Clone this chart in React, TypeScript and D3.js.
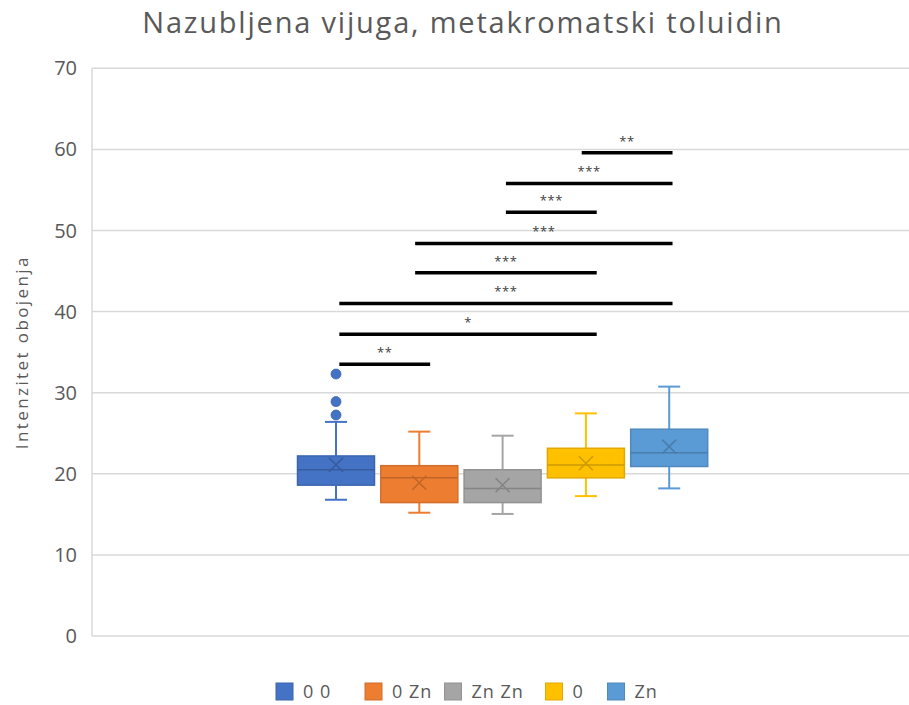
import React from "react";
import * as d3 from "d3";

const title = "Nazubljena vijuga, metakromatski toluidin";
const yAxisTitle = "Intenzitet obojenja";
const series = ["0 0", "0 Zn", "Zn Zn", "0", "Zn"];
const colors = ["#4472C4", "#ED7D31", "#A5A5A5", "#FFC000", "#5B9BD5"];
const whiskerLow = [16.8, 15.2, 15.05, 17.25, 18.2];
const q1 = [18.6, 16.45, 16.45, 19.5, 20.9];
const median = [20.5, 19.5, 18.2, 21.1, 22.6];
const q3 = [22.2, 21.0, 20.5, 23.15, 25.5];
const whiskerHigh = [26.4, 25.2, 24.7, 27.45, 30.75];
const means = [21.1, 18.9, 18.6, 21.3, 23.35];
const outliers = [[32.3, 28.9, 27.25], [], [], [], []];
const yTicks = [0, 10, 20, 30, 40, 50, 60, 70];

// significance brackets (x in series-index units)
const sigFrom = [2.95, 2.04, 2.04, 0.95, 0.95, 0.04, 0.04, 0.04];
const sigTo = [4.04, 4.04, 3.13, 4.04, 3.13, 4.04, 3.13, 1.13];
const sigY = [59.6, 55.8, 52.25, 48.4, 44.8, 41.0, 37.2, 33.5];
const sigLabel = ["**", "***", "***", "***", "***", "***", "*", "**"];

const W = 909;
const H = 705;
const plotLeft = 92;
const plotRight = 909;
const plotTop = 68.3;
const plotBottom = 636;

export default function App() {
  const y = d3.scaleLinear().domain([0, 70]).range([plotBottom, plotTop]);
  const x = d3
    .scaleBand<string>()
    .domain(series)
    .range([294.35, 710.85])
    .paddingInner(0.0756)
    .paddingOuter(0.0378);
  const bw = x.bandwidth();
  const cx = (i: number) => (x(series[i]) as number) + bw / 2;
  const xi = d3.scaleLinear().domain([0, 4]).range([cx(0), cx(4)]);
  const font = "'Open Sans', sans-serif";
  const capW = 22;
  const xs = 7;

  return (
    <svg
      width={W}
      height={H}
      style={{ position: "absolute", left: 0, top: 0, background: "#fff" }}
      fontFamily={font}
    >
      <rect width={W} height={H} fill="#fff" />
      <text x={463} y={33} textAnchor="middle" fontSize={29} letterSpacing={1.8} fill="#595959">
        {title}
      </text>
      {/* gridlines */}
      {yTicks.map((t) => (
        <line
          key={t}
          x1={plotLeft}
          x2={plotRight}
          y1={y(t)}
          y2={y(t)}
          stroke="#d9d9d9"
          strokeWidth={1.5}
        />
      ))}
      <line x1={plotLeft} x2={plotLeft} y1={plotTop} y2={plotBottom} stroke="#d9d9d9" strokeWidth={1.5} />
      {yTicks.map((t) => (
        <text
          key={"l" + t}
          x={77}
          y={y(t)}
          dy="0.35em"
          textAnchor="end"
          fontSize={20}
          fill="#595959"
        >
          {t}
        </text>
      ))}
      <text
        transform={`translate(22,${(plotTop + plotBottom) / 2}) rotate(-90)`}
        textAnchor="middle"
        dy="0.35em"
        fontSize={17}
        letterSpacing={2.4}
        fill="#595959"
      >
        {yAxisTitle}
      </text>
      {/* boxes */}
      {series.map((s, i) => {
        const c = colors[i];
        const dark = d3.color(c)!.darker(0.35).formatHex();
        const darker = d3.color(c)!.darker(0.6).formatHex();
        const x0 = x(s) as number;
        const m = cx(i);
        return (
          <g key={s}>
            <line x1={m} x2={m} y1={y(whiskerHigh[i])} y2={y(q3[i])} stroke={c} strokeWidth={2} />
            <line x1={m} x2={m} y1={y(q1[i])} y2={y(whiskerLow[i])} stroke={c} strokeWidth={2} />
            <line x1={m - capW / 2} x2={m + capW / 2} y1={y(whiskerHigh[i])} y2={y(whiskerHigh[i])} stroke={c} strokeWidth={2} />
            <line x1={m - capW / 2} x2={m + capW / 2} y1={y(whiskerLow[i])} y2={y(whiskerLow[i])} stroke={c} strokeWidth={2} />
            <rect
              x={x0}
              y={y(q3[i])}
              width={bw}
              height={y(q1[i]) - y(q3[i])}
              fill={c}
              stroke={dark}
              strokeWidth={1.5}
            />
            <line x1={x0} x2={x0 + bw} y1={y(median[i])} y2={y(median[i])} stroke={darker} strokeWidth={1.5} />
            <path
              d={`M${m - xs},${y(means[i]) - xs}L${m + xs},${y(means[i]) + xs}M${m - xs},${y(means[i]) + xs}L${m + xs},${y(means[i]) - xs}`}
              stroke={darker}
              strokeWidth={1.5}
              fill="none"
            />
            {outliers[i].map((o, j) => (
              <circle key={j} cx={m} cy={y(o)} r={5} fill={c} stroke={dark} strokeWidth={0.8} />
            ))}
          </g>
        );
      })}
      {/* significance */}
      {sigY.map((v, k) => {
        const a = xi(sigFrom[k]);
        const b = xi(sigTo[k]);
        return (
          <g key={"s" + k}>
            <line x1={a} x2={b} y1={y(v)} y2={y(v)} stroke="#000" strokeWidth={3.5} />
            <text x={(a + b) / 2} y={y(v) - 7} textAnchor="middle" fontSize={13} letterSpacing={0.6} fill="#404040">
              {sigLabel[k]}
            </text>
          </g>
        );
      })}
      {/* legend */}
      {(() => {
        const starts = [276, 365, 444.5, 545.5, 607.5];
        return series.map((s, i) => (
          <g key={"lg" + s}>
            <rect x={starts[i]} y={683} width={17} height={17} fill={colors[i]} stroke={d3.color(colors[i])!.darker(0.35).formatHex()} strokeWidth={1} />
            <text x={starts[i] + 27} y={692} dy="0.35em" fontSize={18} letterSpacing={1} fill="#595959">
              {s}
            </text>
          </g>
        ));
      })()}
    </svg>
  );
}
